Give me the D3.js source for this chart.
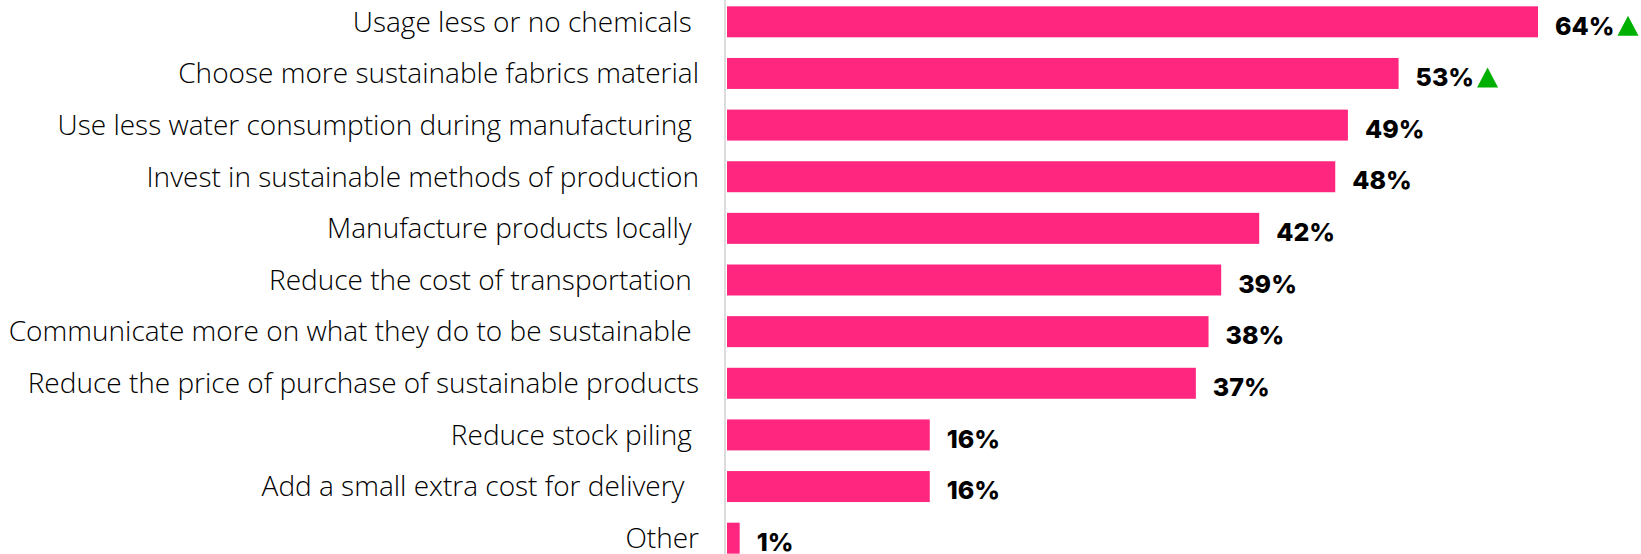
<!DOCTYPE html>
<html>
<head>
<meta charset="utf-8">
<script src="https://cdn.jsdelivr.net/npm/d3@7"></script>
<style>
  body { margin: 0; background: #fff; }
  svg { display: block; }
</style>
</head>
<body>
<div id="chart-container"></div>
<script>
// chart data
const categories = [
    "Usage less or no chemicals ",
    "Choose more sustainable fabrics material",
    "Use less water consumption during manufacturing ",
    "Invest in sustainable methods of production",
    "Manufacture products locally ",
    "Reduce the cost of transportation ",
    "Communicate more on what they do to be sustainable ",
    "Reduce the price of purchase of sustainable products",
    "Reduce stock piling ",
    "Add a small extra cost for delivery  ",
    "Other"
];
const values = [64, 53, 49, 48, 42, 39, 38, 37, 16, 16, 1];
const risen = [true, true, false, false, false, false, false, false, false, false, false];

function createChart(elementId) {
    const width = 1641;
    const height = 554;
    const axisX = 725;

    const svg = d3.select(elementId).append('svg')
        .attr('width', width)
        .attr('height', height);

    const data = categories.map((c, i) => ({ cat: c, value: values[i], up: risen[i] }));

    const x = d3.scaleLinear()
        .domain([0, 64])
        .range([axisX + 2, 1538]);

    const y = d3.scaleBand()
        .domain(categories)
        .range([-4, 564])
        .paddingInner(0.4)
        .paddingOuter(0.2);

    // axis line
    svg.append('line')
        .attr('x1', axisX).attr('x2', axisX)
        .attr('y1', 0).attr('y2', height)
        .attr('stroke', '#dcdcdc')
        .attr('stroke-width', 2);

    // bars
    svg.selectAll('.bar')
        .data(data)
        .join('rect')
        .attr('class', 'bar')
        .attr('x', x(0))
        .attr('y', d => y(d.cat))
        .attr('width', d => x(d.value) - x(0))
        .attr('height', y.bandwidth())
        .attr('fill', '#ff2680');

    // category labels
    svg.selectAll('.cat')
        .data(data)
        .join('text')
        .attr('class', 'cat')
        .attr('x', 699)
        .attr('y', d => y(d.cat) + y.bandwidth() / 2)
        .attr('dy', '0.35em')
        .attr('text-anchor', 'end')
        .style('white-space', 'pre')
        .style('font-family', '"Open Sans", sans-serif')
        .style('font-weight', 300)
        .style('font-size', '28px')
        .style('fill', '#000')
        .text(d => d.cat);

    // value labels
    const lab = svg.selectAll('.val')
        .data(data)
        .join('text')
        .attr('class', 'val')
        .attr('x', d => x(d.value) + 17)
        .attr('y', d => y(d.cat) + y.bandwidth() / 2 + 4)
        .attr('dy', '0.35em')
        .style('font-family', 'Inter, sans-serif')
        .style('font-weight', 800)
        .style('font-size', '25px')
        .style('fill', '#000')
        .text(d => d.value + '%');

    // green up arrows
    lab.each(function (d) {
        if (!d.up) return;
        const w = this.getComputedTextLength();
        const x0 = x(d.value) + 17 + w + 3;
        const cy = y(d.cat) + y.bandwidth() / 2 + 4;
        svg.append('path')
            .attr('d', `M${x0},${cy + 10} L${x0 + 21},${cy + 10} L${x0 + 10.5},${cy - 10} Z`)
            .attr('fill', '#00b000');
    });
}

createChart('#chart-container');
</script>
</body>
</html>
